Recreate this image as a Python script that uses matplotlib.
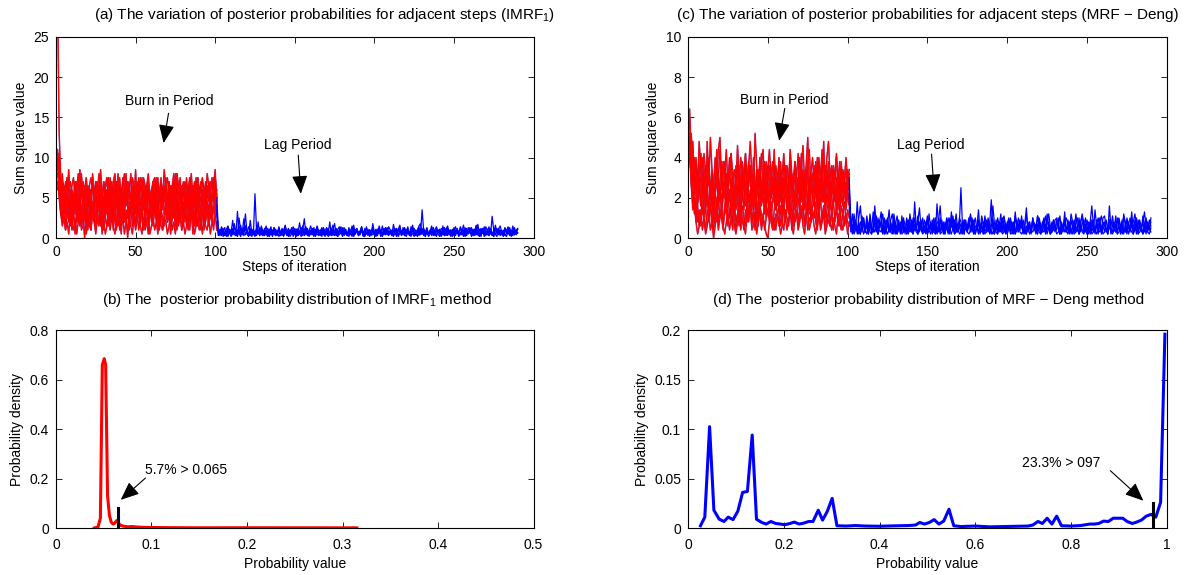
import numpy as np
import matplotlib
matplotlib.use('Agg')
import matplotlib.pyplot as plt
from matplotlib.ticker import FormatStrFormatter

plt.rcParams['font.family'] = ['Liberation Sans', 'DejaVu Sans']
plt.rcParams['mathtext.fontset'] = 'custom'
plt.rcParams['mathtext.rm'] = 'Liberation Sans'
plt.rcParams['mathtext.it'] = 'Liberation Sans:italic'
plt.rcParams['mathtext.default'] = 'regular'

# ---------------- data ----------------
# (a) IMRF1 burn-in traces, steps 1..101, values in units of 0.5
burn_a_unit = 0.5
burn_a = [
    [60,26,15,9,12,6,10,14,7,11, 5,13,8,4,10,15,9,6,12,7,
     3,9,14,10,5,8,13,6,11,4, 9,12,7,15,10,5,8,14,6,11,
     9,4,12,16,8,5,11,7,13,6, 10,14,5,9,12,3,8,13,7,10,
     6,12,15,8,4,11,9,13,6,10, 14,7,5,12,9,16,8,4,11,13,
     6,10,7,14,9,5,12,8,15,10, 6,11,4,13,9,7,12,5,10,14, 8],
    [22,17,10,5,8,3,7,4,9,2, 6,10,4,7,3,8,5,11,6,2,
     7,4,9,5,3,8,10,4,6,2, 5,9,3,7,11,4,6,2,8,5,
     3,10,6,4,7,2,9,5,8,3, 6,11,4,7,2,5,9,3,8,6,
     4,7,10,3,5,8,2,6,9,4, 7,3,5,10,6,2,8,4,7,3,
     9,5,2,6,11,4,7,3,8,5, 2,6,9,4,7,3,10,5,2,8, 6],
    [18,20,12,16,9,14,11,17,8,13, 15,10,12,16,9,14,7,12,15,11,
     13,8,16,10,12,14,9,17,11,8, 13,15,10,12,7,14,16,11,9,13,
     10,15,12,8,14,11,16,9,13,10, 7,12,15,11,14,9,13,16,10,12,
     8,14,11,15,9,13,10,17,12,8, 14,11,13,9,16,10,12,15,8,13,
     11,14,9,12,16,10,13,8,15,11, 9,14,12,10,16,13,8,11,15,12, 10],
    [20,12,6,3,5,2,4,1,6,3, 2,5,1,4,7,2,3,6,1,4,
     3,2,6,4,1,5,3,7,2,4, 1,3,6,2,5,3,1,4,7,2,
     3,5,1,4,2,6,3,1,5,2, 4,7,3,1,5,2,4,6,1,3,
     5,2,4,1,6,3,2,5,4,1, 3,6,2,4,1,5,3,7,2,4,
     1,3,5,2,6,4,1,3,5,2, 4,1,6,3,2,5,1,4,3,6, 2],
    [16,14,10,13,7,11,15,8,12,6, 9,14,10,7,17,11,8,13,6,10,
     12,7,15,9,11,6,13,8,10,14, 7,11,9,13,6,10,15,8,12,7,
     10,13,6,11,9,14,8,12,10,17, 9,7,12,15,8,11,6,13,10,8,
     14,9,12,7,11,15,8,10,13,6, 9,12,7,14,10,8,13,11,6,12,
     9,15,8,11,7,13,10,6,12,9, 14,8,11,7,13,9,12,15,10,8, 11],
    [14,11,8,5,9,12,6,10,4,8, 11,7,13,5,9,6,12,8,3,10,
     7,12,5,9,14,6,8,11,4,9, 12,6,10,7,13,5,8,11,6,9,
     3,10,7,12,8,5,11,9,6,13, 7,10,4,8,12,6,9,11,5,10,
     8,13,6,9,4,11,7,12,8,5, 10,6,13,9,7,11,4,8,12,6,
     9,11,5,10,7,13,8,6,11,9, 5,12,7,10,8,4,11,9,13,7, 10],
    [12,15,11,14,13,10,15,12,14,11, 9,14,13,15,10,12,14,11,13,9,
     13,15,12,10,14,11,16,13,9,14, 12,15,10,13,14,11,9,14,12,15,
     10,13,16,11,14,12,9,15,13,11, 14,10,13,12,15,13,11,14,9,12,
     14,15,10,13,11,14,12,9,13,15, 11,13,10,14,12,16,13,10,13,11,
     14,9,12,15,13,11,14,10,15,12, 13,15,11,14,10,13,14,12,11,15, 10],
    [21,12,7,4,8,2,6,9,3,5, 7,1,6,4,8,3,5,0,7,4,
     6,2,9,5,3,7,4,8,1,6, 5,3,8,4,7,2,6,9,3,5,
     1,7,4,6,0,5,8,3,6,4, 7,2,5,9,3,6,4,1,7,5,
     3,8,4,6,2,7,5,3,8,4, 6,1,5,7,3,9,4,6,2,5,
     8,3,6,4,7,1,5,8,3,6, 4,7,2,5,9,3,6,4,8,5, 7],
    [17,21,14,9,13,7,11,15,8,12, 10,6,14,9,12,16,8,11,7,13,
     9,12,6,10,14,8,11,13,7,10, 12,9,15,8,11,6,13,10,16,9,
     12,7,10,14,8,11,9,13,6,12, 10,15,8,11,7,13,9,12,10,6,
     14,8,11,13,9,7,12,10,15,8, 11,9,13,16,10,7,12,9,11,14,
     8,10,13,7,12,9,11,15,8,10, 13,9,7,12,10,14,8,11,13,9, 12],
    [19,10,6,9,4,7,11,5,8,3, 7,10,5,8,12,4,6,9,3,7,
     10,5,8,4,11,6,9,3,7,10, 5,12,6,8,4,9,7,3,10,6,
     8,11,4,7,5,9,6,12,4,8, 6,10,3,7,9,5,11,6,8,4,
     7,10,5,9,3,8,12,6,7,4, 9,6,11,5,8,3,7,10,6,9,
     4,8,11,5,7,9,3,6,10,5, 8,12,4,7,9,5,6,10,13,17, 9],
]

# (a) IMRF1 lag traces, steps 101..290, values in units of 0.1
lag_a_unit = 0.1
lag_a = [
    [50,9,3,12,5,8,2,14,6,10, 4,18,7,3,25,9,5,11,30,6, 3,12,8,4,55,10,5,13,7,3,
     9,15,4,11,6,2,13,8,5,10, 3,12,7,16,4,9,6,13,2,8, 11,5,19,7,3,10,14,6,9,4,
     12,7,3,15,8,5,11,4,9,13, 6,20,3,10,7,12,5,9,14,4, 8,11,3,13,6,9,16,5,10,7,
     4,12,8,3,14,6,10,5,18,7, 3,11,9,5,15,4,8,12,6,10, 4,17,7,3,11,9,5,13,6,8,
     12,4,10,16,6,3,9,14,7,35, 8,5,12,4,10,7,13,3,9,6, 11,4,15,8,5,12,7,10,3,9,
     14,6,8,12,4,10,7,3,13,9, 5,11,7,16,4,9,12,6,10,3, 8,14,5,27,9,4,12,7,10,6,
     3,13,8,5,11,7,15,4,9,12],
    [40,5,11,3,8,13,4,9,6,2, 10,7,3,33,6,12,4,8,15,5, 2,22,7,10,4,6,20,3,9,5,
     12,4,8,2,10,6,13,3,7,11, 5,9,3,14,6,2,10,8,4,12, 7,3,9,5,11,24,4,8,2,10,
     6,13,3,9,5,7,2,12,8,4, 10,3,7,11,18,5,2,9,6,13, 4,8,3,10,6,2,12,5,9,4,
     7,14,3,8,5,11,2,6,10,4, 9,3,12,6,2,8,5,13,4,7, 3,10,6,2,9,12,4,7,3,11,
     5,8,2,13,6,4,10,3,8,5, 12,2,7,4,9,15,3,6,11,5, 2,8,4,13,6,3,10,7,2,9,
     5,12,3,7,4,10,2,8,6,13, 4,9,3,6,17,5,2,10,7,4, 11,3,8,5,2,12,6,9,3,7,
     10,4,2,8,13,5,3,9,6,11],
    [30,12,6,14,8,3,11,15,7,10, 5,13,9,4,12,16,6,24,10,7, 14,8,4,11,6,13,9,3,15,8,
     10,5,12,7,14,4,9,11,6,13, 8,3,10,15,7,12,5,9,14,6, 11,4,8,13,10,6,12,3,9,15,
     7,11,5,14,8,10,4,13,6,9, 12,5,10,16,7,3,11,14,6,9, 13,8,4,11,7,15,5,10,12,6,
     9,14,4,8,12,6,10,3,13,7, 11,5,15,8,4,12,9,6,14,10, 3,8,12,6,11,16,5,9,13,7,
     10,4,14,8,12,6,9,15,18,5, 11,7,13,4,9,12,6,10,14,8, 5,12,9,3,11,15,7,10,4,13,
     8,11,6,14,9,16,5,12,7,10, 13,4,9,15,6,11,8,12,5,14, 9,7,12,4,10,13,6,11,15,8,
     5,12,9,14,7,3,10,13,6,11],
    [20,3,9,6,12,4,8,2,11,7, 22,5,3,10,6,2,9,13,4,8, 6,3,11,7,2,9,5,12,4,8,
     3,10,6,2,12,7,4,9,3,14, 5,8,2,11,6,3,10,7,4,9, 2,12,5,8,15,3,7,10,4,6,
     9,2,11,5,3,8,13,6,2,10, 4,7,12,3,9,5,2,11,6,8, 3,10,5,2,9,13,4,7,11,3,
     6,9,2,12,5,8,3,10,7,4, 2,11,6,9,3,7,13,4,8,5, 10,3,7,12,2,6,9,4,11,5,
     14,3,8,5,2,10,6,12,4,7, 9,2,11,5,8,3,13,6,2,10, 7,4,9,3,12,5,8,2,11,6,
     3,10,7,4,9,2,13,5,8,6, 12,3,7,10,4,2,9,6,14,5, 8,3,11,6,2,16,7,4,10,5,
     2,9,6,12,3,8,5,11,4,7],
    [35,7,4,10,2,6,9,3,8,5, 12,4,7,2,9,5,11,3,6,8, 4,10,2,7,5,3,9,6,12,3,
     7,5,2,8,4,10,6,3,9,2, 6,11,4,7,3,8,2,5,10,4, 8,3,6,2,9,5,7,12,3,6,
     4,8,2,10,5,3,7,9,4,6, 2,8,5,11,3,6,9,4,7,2, 10,5,3,7,4,8,2,6,11,3,
     5,9,4,2,7,3,10,6,4,8, 3,6,9,2,5,11,4,7,3,8, 5,2,9,6,4,10,3,7,5,2,
     8,6,3,11,4,7,2,9,5,12, 3,6,8,2,5,9,4,7,3,10, 6,2,8,5,3,11,4,7,9,3,
     5,8,2,6,10,4,3,7,5,9, 2,6,11,4,8,3,5,9,2,7, 4,10,6,3,8,5,2,12,7,4,
     9,3,6,5,8,2,10,4,7,6],
]

# (c) MRF-Deng burn-in traces, steps 1..101, values in units of 0.2
burn_c_unit = 0.2
burn_c = [
    [32,20,24,13,18,9,15,21,11,17, 8,14,19,10,16,7,13,22,12,9,
     16,11,18,7,14,20,10,15,8,13, 19,11,6,16,12,21,9,14,18,10,
     13,7,17,12,20,9,15,11,6,14, 18,10,13,22,8,15,11,19,9,12,
     16,7,14,20,10,13,17,8,15,11, 21,9,14,12,18,7,13,16,10,19,
     8,15,12,20,11,9,17,13,7,14, 18,10,15,9,13,19,11,16,8,12, 16],
    [22,19,13,8,4,1,3,7,2,5, 1,3,6,2,4,0,3,7,2,5,
     8,3,1,4,6,2,5,9,3,1, 4,7,2,5,3,1,6,4,8,2,
     3,6,1,4,7,2,5,3,1,0, 4,7,3,5,2,6,4,1,3,8,
     5,2,4,7,3,1,5,6,2,4, 8,3,1,5,7,2,4,6,3,1,
     5,8,2,4,6,1,3,7,4,2, 5,3,1,6,4,2,7,3,5,1, 4],
    [25,18,22,15,20,13,24,17,14,21, 16,19,13,25,17,12,20,15,22,25,
     14,19,16,22,12,18,21,14,17,13, 23,16,11,19,15,21,13,18,24,15,
     12,26,18,13,16,21,14,19,12,17, 22,15,19,12,18,14,20,13,16,21,
     14,18,12,22,16,13,19,15,21,12, 17,23,14,18,25,13,16,20,14,18,
     12,19,15,22,17,13,20,24,15,18, 13,16,21,14,19,12,17,15,20,14, 17],
    [20,14,9,13,6,11,15,8,12,5, 10,14,7,12,9,4,11,15,8,13,
     6,10,14,9,12,5,8,13,11,7, 10,15,6,12,8,14,5,11,9,13,
     7,12,4,10,14,8,11,6,13,9, 12,5,9,14,7,11,8,13,6,10,
     15,8,12,5,9,14,7,11,10,6, 13,9,12,7,10,15,5,11,8,13,
     9,6,12,10,14,7,11,9,13,5, 10,12,8,14,6,11,9,13,7,12, 9],
    [26,13,7,10,4,8,3,6,9,4, 7,11,5,8,3,9,6,4,10,5,
     7,3,8,11,5,6,9,4,7,2, 6,10,4,8,5,3,9,6,11,4,
     7,5,9,3,8,6,4,10,5,7, 9,4,2,7,10,5,8,3,6,9,
     4,7,11,5,8,3,6,10,4,7, 5,9,3,6,8,11,4,7,5,9,
     3,6,10,4,8,5,7,9,3,6, 10,4,7,5,3,8,6,9,4,7, 5],
    [24,19,15,20,12,17,14,21,11,16, 18,13,20,10,17,14,11,19,15,22,
     12,16,19,13,11,17,21,14,10,18, 15,12,20,16,13,19,11,15,18,12,
     20,14,10,17,13,19,22,12,15,18, 13,16,11,20,14,12,18,15,10,19,
     16,12,14,21,13,11,17,15,12,20, 14,17,11,16,19,22,13,15,18,12,
     16,20,13,15,24,11,14,19,12,17, 13,16,20,11,15,18,12,14,17,13, 15],
    [28,24,17,12,15,9,13,8,16,11, 7,24,14,10,8,13,11,7,15,12,
     9,14,10,16,8,12,7,15,11,9, 13,10,6,14,12,8,11,15,17,9,
     12,8,14,10,7,13,11,16,9,12, 6,11,15,9,13,8,12,17,10,7,
     14,11,6,13,16,9,12,10,15,8, 11,14,9,13,7,12,16,10,8,14,
     11,7,13,15,9,12,10,14,8,11, 13,9,12,7,15,10,8,13,11,17, 12],
    [21,16,10,6,9,4,7,3,8,5, 2,7,4,9,5,2,6,10,4,7,
     5,2,8,6,3,7,5,2,9,4, 6,3,8,5,2,7,4,6,9,3,
     7,2,5,4,8,3,6,2,5,7, 4,9,3,2,6,5,3,8,4,2,
     7,5,3,9,2,6,4,7,3,5, 6,8,3,7,2,5,4,8,9,4,
     2,7,3,5,8,2,6,4,3,7, 2,5,8,3,7,4,2,5,6,4, 3],
    [23,26,19,16,12,17,11,15,20,13, 10,16,19,11,15,9,13,18,12,14,
     19,11,10,16,12,15,20,13,9,15, 11,18,14,10,16,12,15,19,13,11,
     16,10,15,12,18,13,9,15,19,11, 14,10,13,17,11,16,12,9,15,12,
     18,13,10,16,11,14,19,12,13,16, 9,15,12,17,14,10,15,11,16,13,
     20,11,15,9,13,18,12,16,10,14, 11,17,13,9,15,12,16,14,10,15, 12],
    [30,18,13,17,11,8,14,10,6,12, 16,9,7,14,10,5,12,15,9,13,
     7,14,11,6,13,9,15,8,11,14, 9,6,13,11,7,14,16,9,12,7,
     11,14,8,5,13,9,11,15,8,12, 6,11,14,9,7,13,10,6,9,15,
     11,7,13,9,14,6,11,8,13,10, 15,11,7,14,9,6,12,11,8,14,
     7,11,15,9,13,6,11,8,14,10, 13,11,7,15,9,13,8,11,14,10, 8],
]

# (c) MRF-Deng lag traces, steps 101..290, values in units of 0.1
lag_c_unit = 0.1
lag_c = [
    [30,5,2,9,4,18,6,2,7,10, 3,8,2,12,5,3,16,6,2,9, 5,2,10,4,7,14,3,6,2,8,
     4,7,2,11,5,3,9,2,12,6, 3,18,5,2,8,4,10,3,7,2, 12,5,3,8,2,17,6,3,9,4,
     2,10,5,3,13,6,2,8,4,7, 25,5,2,9,4,6,11,3,7,2, 6,14,3,8,2,10,5,3,7,19,
     5,2,9,4,6,12,3,7,2,8, 4,10,6,2,13,5,3,8,6,2, 7,15,3,6,2,10,5,3,11,6,
     2,8,5,3,12,6,2,7,4,9, 10,5,2,8,4,13,3,6,2,9, 5,3,12,6,2,8,4,3,10,6,
     2,8,5,3,14,6,2,7,4,10, 11,5,2,16,5,3,8,6,2,9, 5,3,12,6,2,8,4,13,3,6,
     2,9,5,3,11,6,2,8,4,10],
    [20,3,5,2,4,6,2,3,7,2, 4,2,6,3,2,5,3,7,2,4, 3,6,2,4,2,5,3,2,6,3,
     2,4,7,2,3,5,2,4,3,6, 2,5,3,2,7,4,2,3,5,2, 4,2,6,3,2,4,7,2,3,5,
     2,6,3,4,2,5,2,3,6,2, 3,5,2,7,3,2,4,6,2,3, 5,2,4,3,6,2,3,7,2,4,
     2,5,3,2,6,4,2,3,5,2, 6,3,2,4,2,5,7,3,2,4, 3,2,6,2,4,3,5,2,7,3,
     2,4,3,6,2,5,2,3,4,6, 2,3,5,2,7,3,4,2,5,3, 6,2,3,4,2,6,3,2,5,2,
     4,7,2,3,5,2,4,3,6,2, 3,5,2,6,3,2,4,7,2,3, 5,2,4,3,6,2,5,3,2,4,
     7,2,3,5,2,4,6,3,2,5],
    [25,9,4,12,6,3,10,16,5,8, 3,11,6,9,4,13,7,3,10,5, 8,12,4,7,10,3,9,12,5,7,
     11,4,8,3,10,6,4,9,7,3, 6,10,4,8,15,5,3,9,6,11, 4,8,5,10,3,7,9,16,4,8,
     3,6,10,5,8,11,4,7,3,10, 8,4,9,6,3,8,12,5,7,10, 4,8,3,11,7,5,9,6,3,8,
     16,7,4,10,6,3,9,11,5,7, 10,4,8,3,11,6,4,9,7,3, 6,12,4,8,3,9,7,4,11,8,
     3,7,10,5,8,12,6,3,9,5, 8,6,11,4,3,8,10,7,4,12, 8,3,7,10,5,8,12,6,3,9,
     5,8,16,6,3,9,5,8,11,6, 3,9,5,8,6,11,4,3,8,10, 6,4,11,8,3,7,10,5,8,12,
     6,3,9,5,8,13,6,3,9,6],
    [15,5,12,3,8,4,7,2,11,6, 3,8,4,7,2,6,10,4,3,8, 13,4,2,9,6,3,8,5,10,2,
     6,9,3,5,8,2,10,6,4,9, 2,7,5,11,3,8,4,6,2,9, 5,7,2,6,10,4,3,9,6,2,
     8,5,2,10,6,4,9,3,7,8, 2,5,9,6,3,8,4,10,2,6, 5,9,2,7,8,3,5,10,6,2,
     9,4,6,2,8,5,10,3,7,4, 9,2,6,8,4,3,10,6,5,9, 2,6,4,8,3,9,7,4,2,10,
     6,3,9,2,7,8,4,3,9,6, 4,10,2,6,5,8,3,9,6,4, 2,8,6,4,10,3,7,9,5,2,
     8,6,4,9,2,7,10,5,3,8, 6,4,2,9,7,8,5,3,10,6, 4,9,2,7,8,5,3,9,6,4,
     10,2,6,5,8,3,9,7,4,8],
    [22,7,3,6,9,2,5,8,3,10, 4,6,2,9,5,3,7,11,2,6, 8,3,5,2,9,4,7,3,12,5,
     2,7,4,9,3,6,2,8,5,3, 10,4,6,2,7,9,3,5,8,2, 6,4,9,3,7,2,5,10,4,7,
     3,8,5,2,9,4,6,12,3,5, 7,2,8,4,6,10,3,5,9,2, 6,3,7,5,2,11,4,8,3,6,
     9,2,5,7,3,8,4,10,6,2, 5,8,3,7,2,9,5,4,11,3, 6,2,8,5,3,10,4,7,2,9,
     5,3,7,11,4,6,2,8,5,3, 9,6,2,7,4,10,3,5,8,2, 6,9,3,5,2,8,11,4,7,3,
     5,2,9,6,3,7,4,10,2,6, 8,3,5,9,2,7,4,11,3,6, 2,8,5,3,10,6,4,7,2,9,
     5,3,8,6,2,7,10,4,6,3],
]

# (b) IMRF1 posterior probability density
prob_b = [0.040, 0.044, 0.0465, 0.0485, 0.0505, 0.052, 0.054, 0.056, 0.058, 0.060,
          0.0615, 0.0635, 0.065, 0.067, 0.070, 0.075, 0.080, 0.085, 0.090, 0.10,
          0.12, 0.15, 0.20, 0.25, 0.30, 0.315]
dens_b = [0.0, 0.004, 0.04, 0.66, 0.685, 0.66, 0.13, 0.05, 0.022, 0.016,
          0.02, 0.03, 0.024, 0.012, 0.008, 0.005, 0.006, 0.004, 0.003, 0.002,
          0.0015, 0.001, 0.0012, 0.001, 0.0008, 0.0008]
mark_b = (0.065, 0.081)

# (d) MRF-Deng posterior probability density
prob_d = [0.026, 0.035, 0.045, 0.054, 0.065, 0.075, 0.084, 0.094, 0.104, 0.114,
          0.124, 0.134, 0.143, 0.154, 0.163, 0.173, 0.183, 0.193, 0.202, 0.213,
          0.222, 0.232, 0.242, 0.252, 0.261, 0.272, 0.281, 0.291, 0.301, 0.311,
          0.33, 0.35, 0.37, 0.40, 0.43, 0.46, 0.475, 0.484, 0.494, 0.504,
          0.514, 0.524, 0.534, 0.545, 0.555, 0.57, 0.60, 0.63, 0.66, 0.69,
          0.71, 0.72, 0.731, 0.74, 0.75, 0.76, 0.77, 0.78, 0.80, 0.82,
          0.839, 0.849, 0.858, 0.868, 0.878, 0.888, 0.898, 0.908, 0.917, 0.928,
          0.937, 0.947, 0.957, 0.967, 0.977, 0.987, 0.996]
dens_d = [0.0023, 0.011, 0.1025, 0.018, 0.009, 0.0066, 0.011, 0.0085, 0.017, 0.036,
          0.037, 0.094, 0.0089, 0.0056, 0.004, 0.0066, 0.0046, 0.004, 0.0033, 0.0046,
          0.006, 0.004, 0.005, 0.0066, 0.0066, 0.018, 0.008, 0.017, 0.030, 0.0023,
          0.002, 0.0025, 0.002, 0.0018, 0.0022, 0.0025, 0.003, 0.0056, 0.004, 0.0056,
          0.0085, 0.004, 0.007, 0.019, 0.0023, 0.0015, 0.002, 0.0012, 0.0015, 0.0018,
          0.002, 0.003, 0.0066, 0.0046, 0.0099, 0.004, 0.012, 0.0023, 0.002, 0.0025,
          0.004, 0.004, 0.0046, 0.007, 0.0066, 0.0099, 0.0099, 0.0099, 0.0066, 0.0046,
          0.006, 0.008, 0.012, 0.0138, 0.011, 0.026, 0.196]
mark_d = (0.971, 0.025)

# ---------------- figure ----------------
fig = plt.figure(figsize=(11.91, 5.75), dpi=100)
ax_a = fig.add_axes([0.047, 0.586, 0.401, 0.350])
ax_c = fig.add_axes([0.5777, 0.586, 0.402, 0.350])
ax_b = fig.add_axes([0.047, 0.0817, 0.401, 0.344])
ax_d = fig.add_axes([0.5777, 0.0817, 0.402, 0.344])

FS = 10
TFS = 11
arrow = dict(arrowstyle='-|>,head_length=0.75,head_width=0.32', color='k', lw=0.8,
             mutation_scale=15, shrinkA=0, shrinkB=0)


def draw_traces(ax, burn, burn_unit, lag, lag_unit):
    for t in burn:
        y = np.array(t) * burn_unit
        ax.plot(np.arange(1, len(y) + 1), y, color='#a03a80', lw=1.1)
    for t in burn:
        y = np.array(t) * burn_unit
        ax.plot(np.arange(1, len(y) + 1), y, color='#ff0000', lw=0.7)
    for t in lag:
        y = np.array(t) * lag_unit
        ax.plot(np.arange(101, 101 + len(y)), y, color='#0000ff', lw=0.9)


def style(ax, xpad=5):
    ax.tick_params(direction='in', top=True, right=True, length=4, width=0.6,
                   labelsize=FS, pad=5)
    ax.tick_params(axis='x', pad=xpad)
    for s in ax.spines.values():
        s.set_linewidth(0.8)


# (a)
draw_traces(ax_a, burn_a, burn_a_unit, lag_a, lag_a_unit)
ax_a.set_xlim(0, 300)
ax_a.set_ylim(0, 25)
ax_a.set_xticks(range(0, 301, 50))
ax_a.set_yticks(range(0, 26, 5))
ax_a.set_title('(a) The variation of posterior probabilities for adjacent steps (IMRF$_1$)',
               fontsize=TFS, x=0.563, pad=13)
ax_a.set_xlabel('Steps of iteration', fontsize=FS, labelpad=1)
ax_a.set_ylabel('Sum square value', fontsize=FS, labelpad=4)
ax_a.text(71, 17.05, 'Burn in Period', fontsize=FS, ha='center', va='center')
ax_a.annotate('', xy=(67.6, 11.8), xytext=(70.7, 15.5), arrowprops=arrow)
ax_a.text(152, 11.5, 'Lag Period', fontsize=FS, ha='center', va='center')
ax_a.annotate('', xy=(153.8, 5.5), xytext=(152.2, 10.3), arrowprops=arrow)
style(ax_a)

# (c)
draw_traces(ax_c, burn_c, burn_c_unit, lag_c, lag_c_unit)
ax_c.set_xlim(0, 300)
ax_c.set_ylim(0, 10)
ax_c.set_xticks(range(0, 301, 50))
ax_c.set_yticks(range(0, 11, 2))
ax_c.set_title('(c) The variation of posterior probabilities for adjacent steps (MRF \u2212 Deng)',
               fontsize=TFS, x=0.50, pad=13)
ax_c.set_xlabel('Steps of iteration', fontsize=FS, labelpad=1)
ax_c.set_ylabel('Sum square value', fontsize=FS, labelpad=4)
ax_c.text(60.1, 6.88, 'Burn in Period', fontsize=FS, ha='center', va='center')
ax_c.annotate('', xy=(57.1, 4.83), xytext=(60.6, 6.44), arrowprops=arrow)
ax_c.text(152, 4.63, 'Lag Period', fontsize=FS, ha='center', va='center')
ax_c.annotate('', xy=(154.2, 2.28), xytext=(152.6, 4.17), arrowprops=arrow)
style(ax_c)

# (b)
ax_b.plot(prob_b, dens_b, color='#ff0000', lw=2.2)
ax_b.plot([mark_b[0], mark_b[0]], [0, mark_b[1]], color='#000022', lw=2.2)
ax_b.set_xlim(0, 0.5)
ax_b.set_ylim(0, 0.8)
ax_b.set_xticks(np.arange(0, 0.51, 0.1))
ax_b.set_yticks(np.arange(0, 0.81, 0.2))
ax_b.xaxis.set_major_formatter(FormatStrFormatter('%g'))
ax_b.yaxis.set_major_formatter(FormatStrFormatter('%g'))
ax_b.set_title('(b) The  posterior probability distribution of IMRF$_1$ method',
               fontsize=TFS, x=0.504, pad=19)
ax_b.set_xlabel('Probability value', fontsize=FS, labelpad=4)
ax_b.set_ylabel('Probability density', fontsize=FS, labelpad=4)
ax_b.text(0.0937, 0.236, '5.7% > 0.065', fontsize=FS, ha='left', va='center')
ax_b.annotate('', xy=(0.0678, 0.114), xytext=(0.0937, 0.202), arrowprops=arrow)
style(ax_b, xpad=7)

# (d)
ax_d.plot(prob_d, dens_d, color='#0000ff', lw=2.2)
ax_d.plot([mark_d[0], mark_d[0]], [0, mark_d[1]], color='#000000', lw=2.2)
ax_d.set_xlim(0, 1)
ax_d.set_ylim(0, 0.2)
ax_d.set_xticks(np.arange(0, 1.01, 0.2))
ax_d.set_yticks(np.arange(0, 0.201, 0.05))
ax_d.xaxis.set_major_formatter(FormatStrFormatter('%g'))
ax_d.yaxis.set_major_formatter(FormatStrFormatter('%g'))
ax_d.set_title('(d) The  posterior probability distribution of MRF \u2212 Deng method',
               fontsize=TFS, x=0.502, pad=19)
ax_d.set_xlabel('Probability value', fontsize=FS, labelpad=4)
ax_d.set_ylabel('Probability density', fontsize=FS, labelpad=4)
ax_d.text(0.697, 0.066, '23.3% > 097', fontsize=FS, ha='left', va='center')
ax_d.annotate('', xy=(0.951, 0.0276), xytext=(0.882, 0.058), arrowprops=arrow)
style(ax_d, xpad=7)

fig.savefig('out.png', dpi=100)
